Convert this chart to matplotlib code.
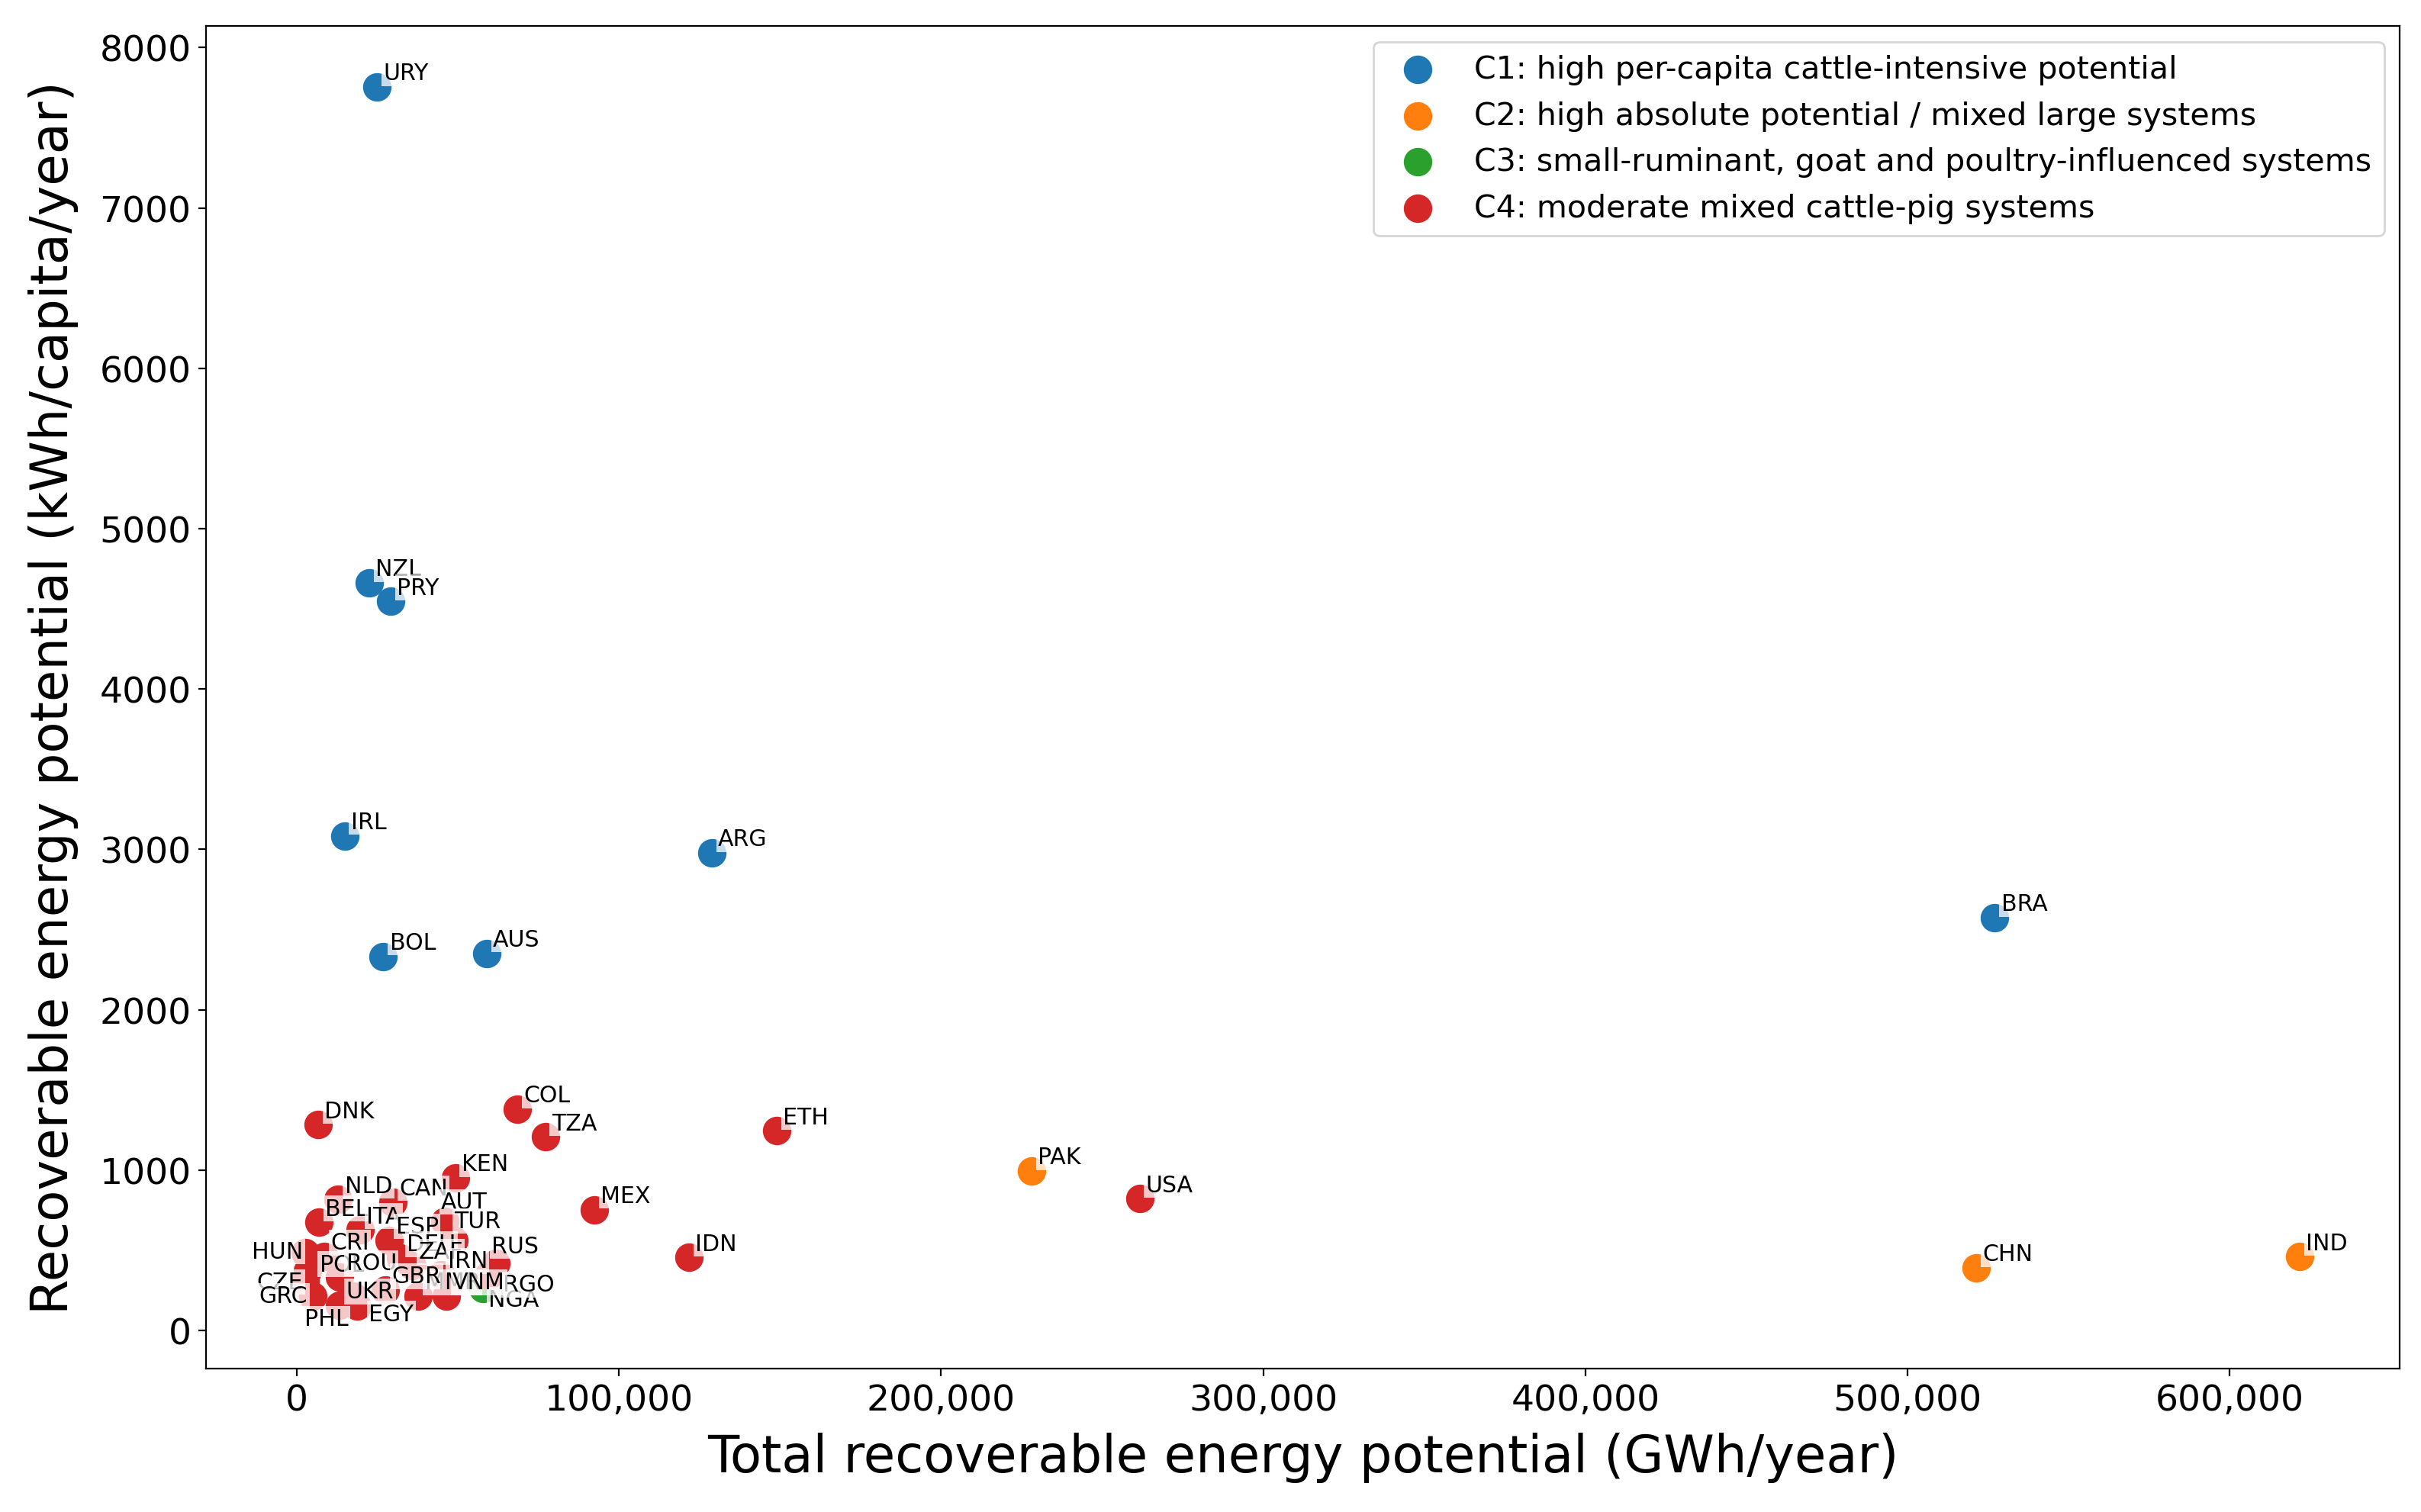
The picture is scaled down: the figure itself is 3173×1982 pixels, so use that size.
import matplotlib
matplotlib.use("Agg")
import matplotlib.pyplot as plt
from matplotlib.ticker import MultipleLocator, StrMethodFormatter

# ---------------- data ----------------
countries = ["URY", "NZL", "PRY", "IRL", "ARG", "BOL", "AUS", "BRA",
             "PAK", "CHN", "IND",
             "NGA",
             "DNK", "COL", "TZA", "ETH", "KEN", "MEX", "IDN", "USA",
             "BEL", "NLD", "CAN", "AUT", "TUR", "ITA", "ESP", "DEU", "CRI",
             "HUN", "POL", "ROU", "ZAF", "IRN", "RUS", "RGO", "MMR", "VNM",
             "GBR", "CZE", "GRC", "UKR", "PHL", "EGY"]
total_gwh = [24800, 22400, 29100, 14800, 128800, 26800, 58900, 527100,
             228000, 521300, 621700,
             57900,
             6600, 68400, 77100, 149000, 49150, 92400, 121700, 261600,
             6900, 12900, 29800, 46000, 48800, 19600, 28700, 32200, 8500,
             2600, 3400, 13300, 35800, 44800, 61800, 59500, 37700, 46400,
             27500, 2600, 5000, 13300, 17600, 18800]
per_capita = [7755, 4662, 4547, 3084, 2978, 2333, 2352, 2573,
              994, 390, 460,
              262,
              1283, 1380, 1206, 1245, 951, 754, 455, 821,
              674, 817, 801, 682, 563, 626, 563, 452, 461,
              485, 372, 333, 404, 347, 420, 341, 214, 214,
              252, 309, 214, 157, 214, 151]
cluster = ["C1"] * 8 + ["C2"] * 3 + ["C3"] + ["C4"] * 32

cluster_names = ["C1", "C2", "C3", "C4"]
cluster_labels = ["C1: high per-capita cattle-intensive potential",
                  "C2: high absolute potential / mixed large systems",
                  "C3: small-ruminant, goat and poultry-influenced systems",
                  "C4: moderate mixed cattle-pig systems"]

# ---------------- style / layout ----------------
colors = {"C1": "#1f77b4", "C2": "#ff7f0e", "C3": "#2ca02c", "C4": "#d62728"}
default_offset = (3, 3.5)
label_offsets = {  # (dx, dy) in points, horizontal alignment
    "HUN": (-1, -2.5, "right"),
    "POL": (5.5, 0, "left"),
    "RUS": (-2, 5, "left"),
    "NGA": (2.4, -8.4, "left"),
    "RGO": (6.6, -7.2, "left"),
    "CZE": (-1, -3.6, "right"),
    "GRC": (-2.5, -3, "right"),
    "PHL": (-2.4, -13.7, "right"),
    "EGY": (5.4, -6.6, "left"),
    "TUR": (0, 6, "left"),
    "AUT": (-1.8, 6, "left"),
}

fig = plt.figure(figsize=(15.865, 9.915), dpi=200)
ax = fig.add_axes([0.0851, 0.0948, 0.9912 - 0.0851, 0.9823 - 0.0948])

for cn, cl in zip(cluster_names, cluster_labels):
    xs = [x for x, c in zip(total_gwh, cluster) if c == cn]
    ys = [y for y, c in zip(per_capita, cluster) if c == cn]
    ax.scatter(xs, ys, s=155, color=colors[cn], label=cl, zorder=2)

for name, x, y in zip(countries, total_gwh, per_capita):
    dx, dy, ha = label_offsets.get(name, (default_offset[0], default_offset[1], "left"))
    ax.annotate(name, (x, y), xytext=(dx, dy), textcoords="offset points",
                ha=ha, va="baseline", fontsize=10.8, color="black", zorder=3,
                bbox=dict(boxstyle="square,pad=0.08", fc="white", ec="none", alpha=0.75))

ax.set_xlim(-28186, 652770)
ax.set_ylim(-238, 8135)
ax.xaxis.set_major_locator(MultipleLocator(100000))
ax.yaxis.set_major_locator(MultipleLocator(1000))
ax.xaxis.set_major_formatter(StrMethodFormatter("{x:,.0f}"))
ax.tick_params(labelsize=17)
ax.set_xlabel("Total recoverable energy potential (GWh/year)", fontsize=24.2, labelpad=6.5)
ax.set_ylabel("Recoverable energy potential (kWh/capita/year)", fontsize=24.2, labelpad=10)

ax.legend(loc="upper right", fontsize=14.8)

fig.savefig("out.png", dpi=200)
